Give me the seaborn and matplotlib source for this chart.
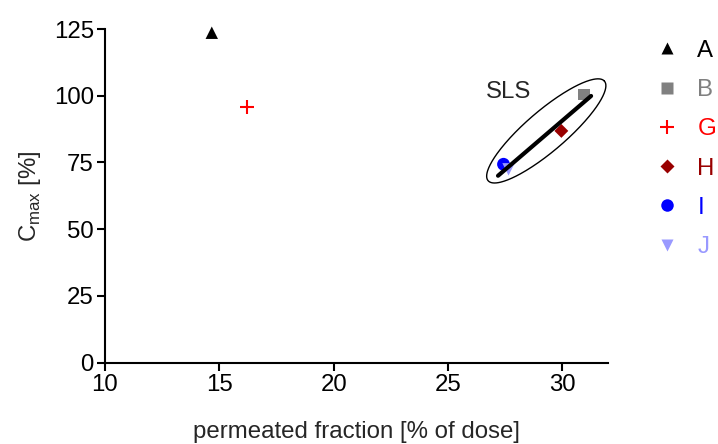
import matplotlib
matplotlib.use("Agg")
import matplotlib.pyplot as plt
import seaborn as sns
import numpy as np
import pandas as pd
from matplotlib.lines import Line2D

# ---- data ----
labels = ["A", "B", "G", "H", "I", "J"]
perm_fraction = [14.67, 30.96, 16.23, 29.96, 27.43, 27.65]
cmax = [123.6, 100.5, 95.6, 86.8, 74.3, 72.4]
colors = ["#000000", "#808080", "#FF0000", "#990000", "#0000FF", "#9999FF"]
markers = ["^", "s", "+", "D", "o", "v"]
marker_sizes = [80, 70, 100, 50, 85, 80]

sls_line_x = [27.19, 31.26]
sls_line_y = [70.0, 99.9]
ellipse_center = (29.30, 86.8)
ellipse_u = (2.54, 18.7)
ellipse_v = (-0.59, 5.6)

xticks = [10, 15, 20, 25, 30]
yticks = [0, 25, 50, 75, 100, 125]

FS = 17.3

sns.set_theme(style="ticks")
plt.rcParams["font.family"] = ["Liberation Sans", "DejaVu Sans"]
plt.rcParams["mathtext.fontset"] = "custom"
plt.rcParams["mathtext.rm"] = "Liberation Sans"

fig = plt.figure(figsize=(7.18, 4.44), dpi=100)
ax = fig.add_axes([105/718, 1-362.5/444, (608-105)/718, (362.5-29)/444])

df = pd.DataFrame({"label": labels, "x": perm_fraction, "y": cmax})
for lab, col, mk, ms in zip(labels, colors, markers, marker_sizes):
    sub = df[df["label"] == lab]
    kw = dict(color=col, marker=mk, s=ms, ax=ax, clip_on=False, zorder=3)
    if mk == "+":
        kw["linewidths"] = 1.5
    else:
        kw["edgecolor"] = "none"
    sns.scatterplot(data=sub, x="x", y="y", **kw)

sns.lineplot(x=sls_line_x, y=sls_line_y, color="black", linewidth=3, ax=ax,
             zorder=4)

t = np.linspace(0, 2*np.pi, 300)
ex = ellipse_center[0] + ellipse_u[0]*np.cos(t) + ellipse_v[0]*np.sin(t)
ey = ellipse_center[1] + ellipse_u[1]*np.cos(t) + ellipse_v[1]*np.sin(t)
ax.plot(ex, ey, color="black", linewidth=1, clip_on=False)

ax.text(27.64, 101.4, "SLS", fontsize=FS, ha="center", va="center")

ax.set_xlim(10, 32)
ax.set_ylim(0, 125)
ax.set_xticks(xticks)
ax.set_yticks(yticks)
ax.tick_params(axis="both", labelsize=FS, length=6, width=1.5, color="black",
               labelcolor="black", direction="out", pad=2)
for s in ["left", "bottom"]:
    ax.spines[s].set_linewidth(1.5)
    ax.spines[s].set_color("black")
sns.despine(ax=ax)
ax.set_xlabel("permeated fraction [% of dose]", fontsize=FS, labelpad=18)
ax.set_ylabel(r"C$_{\mathregular{max}}$ [%]", fontsize=FS, labelpad=8)

handles = []
for lab, col, mk in zip(labels, colors, markers):
    if mk == "+":
        h = Line2D([], [], linestyle="none", marker=mk, color=col,
                   markersize=10, markeredgewidth=1.5)
    elif mk == "D":
        h = Line2D([], [], linestyle="none", marker=mk, color=col,
                   markersize=7, markeredgecolor="none")
    else:
        h = Line2D([], [], linestyle="none", marker=mk, color=col,
                   markersize=9, markeredgecolor="none")
    handles.append(h)
leg = ax.legend(handles, labels, loc="upper left",
                bbox_to_anchor=(633/718, 1-18/444),
                bbox_transform=fig.transFigure, frameon=False,
                fontsize=FS, labelspacing=0.72, handletextpad=0.78,
                handlelength=1.0)
for txt, col in zip(leg.get_texts(), colors):
    txt.set_color(col)

fig.savefig("out.png", dpi=100)
